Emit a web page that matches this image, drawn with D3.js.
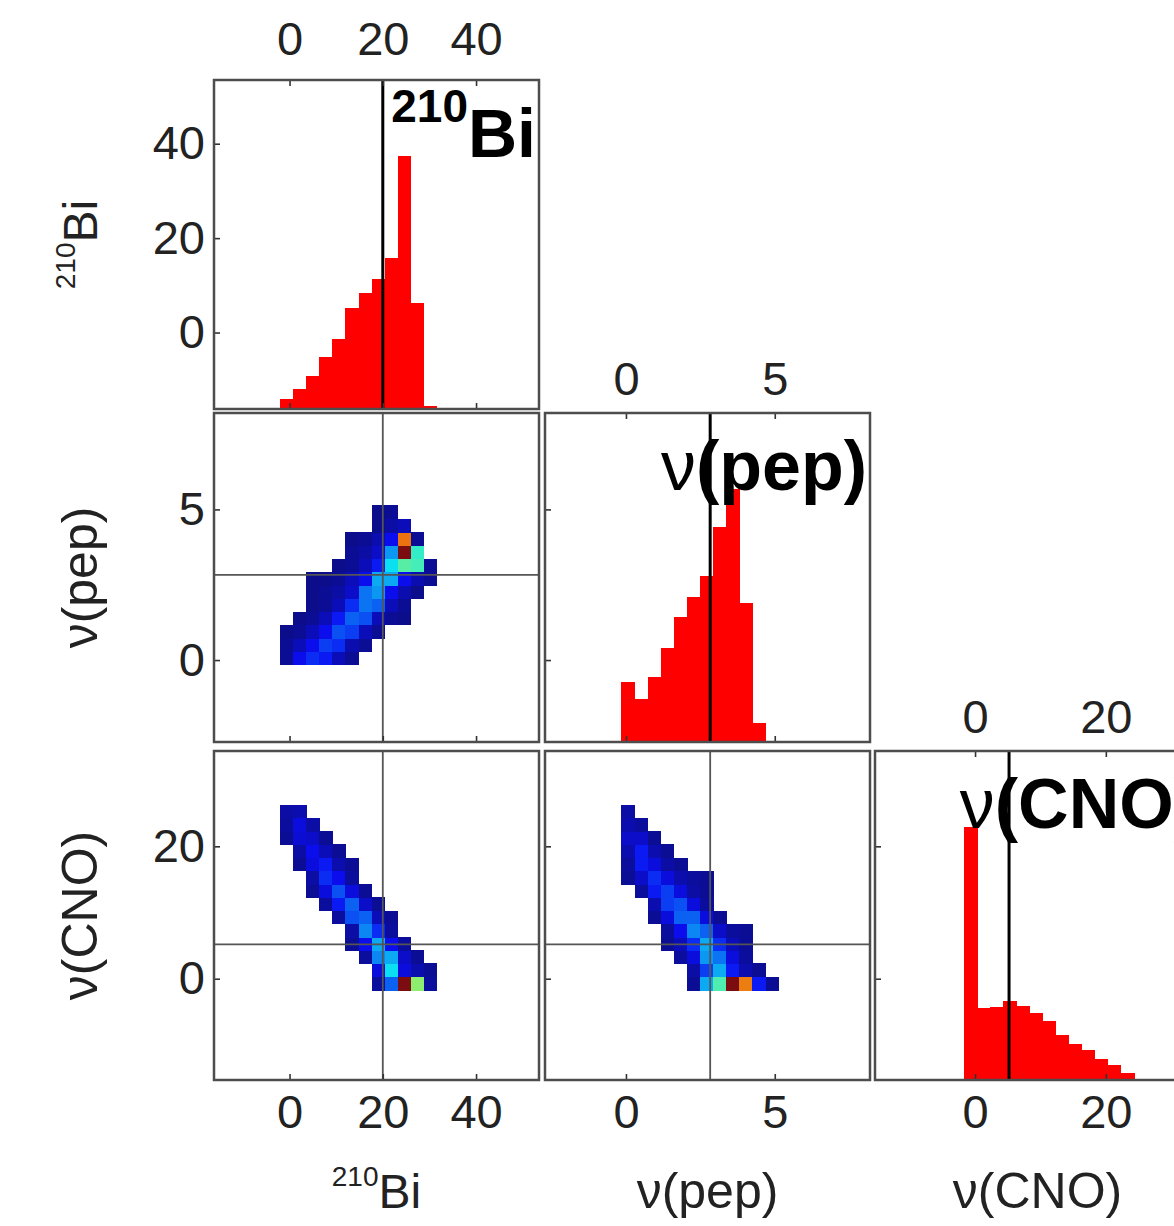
<!DOCTYPE html>
<html><head><meta charset="utf-8">
<script src="https://cdn.jsdelivr.net/npm/d3@7"></script>
<style>
body{margin:0;background:#fff}
svg{display:block}
text{font-family:"Liberation Sans",Arial,Helvetica,sans-serif}
</style>
</head><body>
<svg id="chart" width="1174" height="1226"></svg>
<script>
// ---------------- data ----------------
const varNames = ["bi", "pep", "cno"];
const biDomain = [-16.2, 53.5];
const pepDomain = [-2.72, 8.2];
const cnoDomain = [-15.3, 34.4];
const biTicks = [0, 20, 40];
const pepTicks = [0, 5];
const cnoTicks = [0, 20];
const bestFit = [20, 2.83, 5.2];           // bi, pep, cno
const binStart = [-2.0, -0.15, -1.7];
const binWidth = [2.8, 0.44, 2.0];

// 1D histograms (counts per bin)
const biHist  = [10, 20, 33, 52, 70, 100, 115, 129, 150, 252, 105, 3];
const pepHist = [59, 43, 64, 93, 124, 144, 164, 213, 251, 138, 19, 0];
const cnoHist = [251, 71, 72, 78, 73, 66, 58, 45, 36, 30, 21, 15, 7, 1];

// 2D histograms: rows = y-variable bins (bottom to top), cols = x-variable bins
const pepVsBi = [
  [2, 12, 16, 14, 6, 2, 0, 0, 0, 0, 0, 0],
  [2, 6, 12, 18, 16, 5, 2, 0, 0, 0, 0, 0],
  [1, 2, 6, 12, 20, 18, 6, 2, 0, 0, 0, 0],
  [0, 1, 2, 6, 14, 22, 20, 6, 2, 1, 0, 0],
  [0, 0, 1, 2, 6, 16, 24, 22, 6, 2, 0, 0],
  [0, 0, 1, 2, 4, 8, 24, 28, 12, 5, 1, 0],
  [0, 0, 1, 1, 2, 6, 12, 30, 30, 12, 5, 2],
  [0, 0, 0, 0, 1, 2, 6, 14, 36, 46, 44, 2],
  [0, 0, 0, 0, 0, 2, 4, 8, 28, 100, 42, 0],
  [0, 0, 0, 0, 0, 1, 2, 5, 12, 76, 2, 0],
  [0, 0, 0, 0, 0, 0, 0, 1, 4, 6, 0, 0],
  [0, 0, 0, 0, 0, 0, 0, 1, 2, 0, 0, 0]
];
const cnoVsBi = [
  [0, 0, 0, 0, 0, 0, 0, 3, 22, 100, 52, 3],
  [0, 0, 0, 0, 0, 0, 0, 10, 36, 10, 5, 2],
  [0, 0, 0, 0, 0, 0, 3, 26, 30, 8, 2, 0],
  [0, 0, 0, 0, 0, 2, 12, 30, 12, 3, 0, 0],
  [0, 0, 0, 0, 0, 4, 26, 16, 3, 0, 0, 0],
  [0, 0, 0, 0, 3, 20, 22, 6, 2, 0, 0, 0],
  [0, 0, 0, 3, 14, 22, 8, 2, 0, 0, 0, 0],
  [0, 0, 2, 10, 20, 10, 2, 0, 0, 0, 0, 0],
  [0, 0, 4, 16, 12, 3, 0, 0, 0, 0, 0, 0],
  [0, 2, 10, 14, 5, 2, 0, 0, 0, 0, 0, 0],
  [0, 4, 12, 6, 2, 0, 0, 0, 0, 0, 0, 0],
  [2, 9, 8, 2, 0, 0, 0, 0, 0, 0, 0, 0],
  [3, 10, 4, 0, 0, 0, 0, 0, 0, 0, 0, 0],
  [4, 5, 0, 0, 0, 0, 0, 0, 0, 0, 0, 0]
];
const cnoVsPep = [
  [0, 0, 0, 0, 0, 2, 30, 45, 100, 75, 14, 2],
  [0, 0, 0, 0, 0, 4, 18, 30, 14, 5, 2, 0],
  [0, 0, 0, 0, 3, 10, 28, 24, 10, 3, 0, 0],
  [0, 0, 0, 2, 6, 16, 30, 16, 6, 2, 0, 0],
  [0, 0, 0, 3, 12, 26, 22, 8, 3, 2, 0, 0],
  [0, 0, 2, 10, 22, 22, 10, 2, 0, 0, 0, 0],
  [0, 0, 5, 18, 20, 10, 3, 0, 0, 0, 0, 0],
  [0, 3, 14, 18, 10, 4, 2, 0, 0, 0, 0, 0],
  [2, 8, 16, 10, 5, 3, 2, 0, 0, 0, 0, 0],
  [3, 14, 10, 4, 2, 0, 0, 0, 0, 0, 0, 0],
  [5, 14, 5, 2, 0, 0, 0, 0, 0, 0, 0, 0],
  [8, 8, 2, 0, 0, 0, 0, 0, 0, 0, 0, 0],
  [5, 3, 0, 0, 0, 0, 0, 0, 0, 0, 0, 0],
  [4, 0, 0, 0, 0, 0, 0, 0, 0, 0, 0, 0]
];

// ---------------- layout ----------------
const domains = [biDomain, pepDomain, cnoDomain];
const ticks = [biTicks, pepTicks, cnoTicks];
const hists = [biHist, pepHist, cnoHist];
const pairs = { "1-0": pepVsBi, "2-0": cnoVsBi, "2-1": cnoVsPep };
const colX = [214, 545, 875];
const rowY = [80, 413, 751];
const PW = 325, PH = 329;
const HIST_FILL = 0.77;

const svg = d3.select("#chart");
const defs = svg.append("defs");

function jet(t) {
  const c = v => Math.max(0, Math.min(1, v));
  const r = c(1.5 - Math.abs(4 * t - 3));
  const g = c(1.5 - Math.abs(4 * t - 2));
  const b = c(1.5 - Math.abs(4 * t - 1));
  const base = d3.rgb(r * 255, g * 255, b * 255).toString();
  return d3.interpolateRgb(base, "#5a6a90")(0.12);
}

function superLabel(sel, sup, main, supSize, mainSize, raise, weight) {
  sel.append("tspan").attr("font-size", supSize).attr("font-weight", weight).attr("dy", -raise).text(sup);
  sel.append("tspan").attr("font-size", mainSize).attr("font-weight", weight).attr("dy", raise).text(main);
}
function nuLabel(sel, inner, size, bold) {
  sel.append("tspan").attr("font-size", size).attr("font-weight", "normal").text("ν");
  sel.append("tspan").attr("font-size", size).attr("font-weight", bold ? "bold" : "normal").text("(" + inner + ")");
}

for (let i = 0; i < 3; i++) {
  for (let j = 0; j <= i; j++) {
    const x0 = colX[j], y0 = rowY[i];
    const xs = d3.scaleLinear().domain(domains[j]).range([x0, x0 + PW]);
    const ys = d3.scaleLinear().domain(domains[i]).range([y0 + PH, y0]);
    const id = "clip" + i + j;
    defs.append("clipPath").attr("id", id).append("rect")
      .attr("x", x0).attr("y", y0).attr("width", PW).attr("height", PH);
    const g = svg.append("g");
    const inner = g.append("g").attr("clip-path", `url(#${id})`);
    inner.append("rect").attr("x", x0).attr("y", y0).attr("width", PW).attr("height", PH).attr("fill", "#fff");

    if (i === j) {
      const counts = hists[i];
      const cs = d3.scaleLinear().domain([0, d3.max(counts) / HIST_FILL]).range([y0 + PH, y0]);
      inner.selectAll("rect.bar").data(counts).join("rect").attr("class", "bar")
        .attr("x", (d, k) => xs(binStart[i] + k * binWidth[i]))
        .attr("width", (d, k) => xs(binStart[i] + (k + 1) * binWidth[i]) - xs(binStart[i] + k * binWidth[i]) + 0.6)
        .attr("y", d => cs(d))
        .attr("height", d => cs(0) - cs(d))
        .attr("fill", "#ff0000")
        .attr("shape-rendering", "crispEdges");
      const lab = inner.append("text").attr("x", x0 + PW - 3).attr("y", y0 + 77)
        .attr("text-anchor", "end").attr("fill", "#000");
      if (i === 0) superLabel(lab, "210", "Bi", 46, 68, 35, "bold");
      if (i === 1) nuLabel(lab, "pep", 70, true);
      if (i === 2) nuLabel(lab, "CNO", 70, true);
      inner.append("line").attr("x1", xs(bestFit[i])).attr("x2", xs(bestFit[i]))
        .attr("y1", y0).attr("y2", y0 + PH).attr("stroke", "#000").attr("stroke-width", 3);
    } else {
      const M = pairs[i + "-" + j];
      const vmax = d3.max(M.flat());
      const cells = [];
      M.forEach((row, r) => row.forEach((v, c) => { if (v > 0) cells.push({ r, c, v }); }));
      inner.selectAll("rect.cell").data(cells).join("rect").attr("class", "cell")
        .attr("x", d => xs(binStart[j] + d.c * binWidth[j]))
        .attr("width", d => xs(binStart[j] + (d.c + 1) * binWidth[j]) - xs(binStart[j] + d.c * binWidth[j]) + 0.6)
        .attr("y", d => ys(binStart[i] + (d.r + 1) * binWidth[i]))
        .attr("height", d => ys(binStart[i] + d.r * binWidth[i]) - ys(binStart[i] + (d.r + 1) * binWidth[i]) + 0.6)
        .attr("fill", d => jet(d.v / vmax))
        .attr("shape-rendering", "crispEdges");
      inner.append("line").attr("x1", xs(bestFit[j])).attr("x2", xs(bestFit[j]))
        .attr("y1", y0).attr("y2", y0 + PH).attr("stroke", "#555").attr("stroke-width", 1.8);
      inner.append("line").attr("x1", x0).attr("x2", x0 + PW)
        .attr("y1", ys(bestFit[i])).attr("y2", ys(bestFit[i])).attr("stroke", "#555").attr("stroke-width", 1.8);
    }

    const styleAxis = a => {
      a.select(".domain").remove();
      a.selectAll(".tick line").attr("stroke", "#333").attr("stroke-width", 1.6);
      a.selectAll(".tick text").attr("fill", "#222").attr("font-size", 47)
        .attr("font-family", '"Liberation Sans",Arial,Helvetica,sans-serif');
    };
    const bottom = d3.axisBottom(xs).tickValues(ticks[j]).tickSize(-6).tickPadding(15);
    if (i !== 2) bottom.tickFormat("");
    g.append("g").attr("transform", `translate(0,${y0 + PH})`).call(bottom).call(styleAxis);

    const left = d3.axisLeft(ys).tickValues(ticks[i]).tickSize(-6).tickPadding(9);
    if (j !== 0) left.tickFormat("");
    g.append("g").attr("transform", `translate(${x0},0)`).call(left).call(styleAxis);

    if (i === j) {
      const top = d3.axisTop(xs).tickValues(ticks[j]).tickSize(-6).tickPadding(i === 0 ? 25 : 18);
      g.append("g").attr("transform", `translate(0,${y0})`).call(top).call(styleAxis);
    }

    g.append("rect").attr("x", x0).attr("y", y0).attr("width", PW).attr("height", PH)
      .attr("fill", "none").attr("stroke", "#4d4d4d").attr("stroke-width", 2.5);
  }
}

// axis titles
const titleY = 1208;
const colCenters = colX.map(x => x + PW / 2);
const rowCenters = rowY.map(y => y + PH / 2);
[0, 1, 2].forEach(k => {
  const bt = svg.append("text").attr("x", colCenters[k]).attr("y", titleY)
    .attr("text-anchor", "middle").attr("fill", "#222");
  const lt = svg.append("text").attr("transform", `translate(97,${rowCenters[k]}) rotate(-90)`)
    .attr("text-anchor", "middle").attr("fill", "#222");
  [bt, lt].forEach(t => {
    if (k === 0) superLabel(t, "210", "Bi", 28, 48, 22, "normal");
    if (k === 1) nuLabel(t, "pep", 50, false);
    if (k === 2) nuLabel(t, "CNO", 50, false);
  });
});
</script>
</body></html>
